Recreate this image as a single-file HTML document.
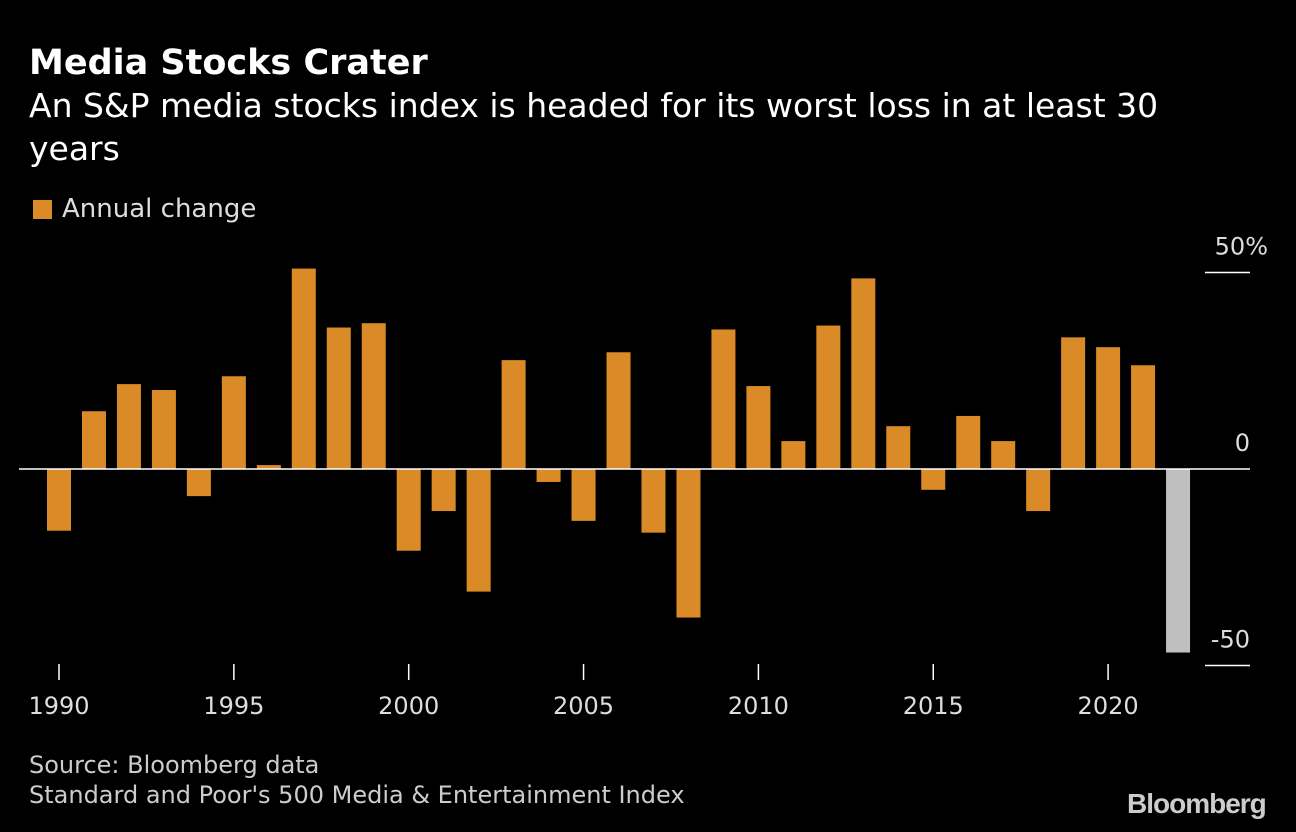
<!DOCTYPE html>
<html><head><meta charset="utf-8">
<style>
html,body{margin:0;padding:0;background:#000;}
body{width:1296px;height:832px;overflow:hidden;font-family:"DejaVu Sans","Liberation Sans",sans-serif;color:#fff;position:relative;}
.t{position:absolute;white-space:nowrap;}
</style></head>
<body>
<div class="t" style="left:29px;top:43px;font-size:35px;font-weight:bold;">Media Stocks Crater</div>
<div class="t" style="left:29px;top:84px;font-size:33px;line-height:43px;white-space:normal;width:1180px;">An S&amp;P media stocks index is headed for its worst loss in at least 30 years</div>
<div style="position:absolute;left:33px;top:200px;width:19px;height:19px;background:#da8a27;"></div>
<div class="t" style="left:62px;top:194px;font-size:26px;color:#ddd;">Annual change</div>
<svg id="chart" width="1296" height="832" style="position:absolute;left:0;top:0;" xmlns="http://www.w3.org/2000/svg"></svg>
<div class="t" style="left:29px;top:751px;font-size:24px;color:#ccc;">Source: Bloomberg data</div>
<div class="t" style="left:29px;top:781px;font-size:24px;color:#ccc;">Standard and Poor's 500 Media &amp; Entertainment Index</div>
<div class="t" style="left:1127px;top:788px;font-family:'Liberation Sans',sans-serif;font-size:28px;font-weight:bold;color:#ccc;letter-spacing:-1px;">Bloomberg</div>
<script>
const years=[1990,1991,1992,1993,1994,1995,1996,1997,1998,1999,2000,2001,2002,2003,2004,2005,2006,2007,2008,2009,2010,2011,2012,2013,2014,2015,2016,2017,2018,2019,2020,2021,2022];
const values=[-15.7,14.7,21.6,20.1,-6.9,23.6,1.0,51.0,36.0,37.1,-20.8,-10.7,-31.2,27.7,-3.3,-13.2,29.7,-16.2,-37.8,35.5,21.1,7.1,36.5,48.5,10.9,-5.3,13.5,7.1,-10.7,33.5,31.0,26.4,-46.7];
const yTicks=[50,0,-50];
const yTickLabels=["50%","0","-50"];
const xTicks=[1990,1995,2000,2005,2010,2015,2020];
const NS="http://www.w3.org/2000/svg";
const svg=document.getElementById('chart');
const y=v=>469-v*3.93;
const x=yr=>59+(yr-1990)*34.97;
function mk(tag,attrs){const e=document.createElementNS(NS,tag);for(const k in attrs)e.setAttribute(k,attrs[k]);svg.appendChild(e);return e;}
years.forEach((yr,i)=>{
  const v=values[i];
  const r=mk('rect',{x:x(yr)-12,y:Math.min(y(v),y(0)),width:24,height:Math.abs(y(v)-y(0)),fill:yr===2022?'#bfbfbf':'#da8a27'});
  
  
});
const zl=mk('line',{x1:19,x2:1250,y1:y(0),y2:y(0),stroke:'#fff','stroke-width':1.5});


yTicks.forEach((t,i)=>{
  if(t!==0){
    const l=mk('line',{x1:1205,x2:1250,y1:y(t),y2:y(t),stroke:'#fff','stroke-width':1.5});
    
    
  }
  const tx=mk('text',{x:1250,y:y(t)-18,'text-anchor':'end',fill:'#ddd','font-size':24,'font-family':'DejaVu Sans, sans-serif'});
  tx.textContent=yTickLabels[i];
  if(t===50){tx.setAttribute('x',1268);}
  
  
});
xTicks.forEach(t=>{
  const l=mk('line',{x1:x(t),x2:x(t),y1:664,y2:680,stroke:'#fff','stroke-width':1.5});
  
  
  const tx=mk('text',{x:x(t),y:714,'text-anchor':'middle',fill:'#ddd','font-size':24,'font-family':'DejaVu Sans, sans-serif'});
  tx.textContent=t;
  
  
});
</script>
</body></html>
